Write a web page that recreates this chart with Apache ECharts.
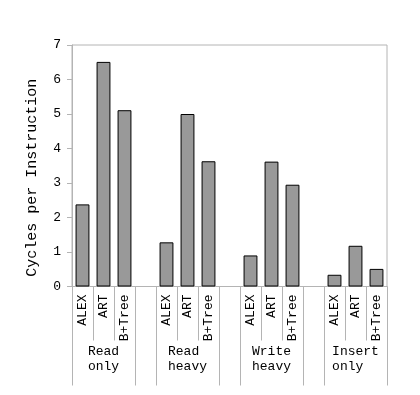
<!DOCTYPE html>
<html>
<head>
<meta charset="utf-8">
<script src="https://cdn.jsdelivr.net/npm/echarts@6/dist/echarts.min.js"></script>
<style>html,body{margin:0;padding:0;background:#fff}#c{width:420px;height:395px}</style>
</head>
<body>
<div id="c"></div>
<script>
const benchmarks = ['ALEX', 'ART', 'B+Tree'];
const workloads = ['Read\nonly', 'Read\nheavy', 'Write\nheavy', 'Insert\nonly'];
const readOnly = [2.38, 6.51, 5.11];
const readHeavy = [1.28, 5.0, 3.63];
const writeHeavy = [0.9, 3.62, 2.95];
const insertOnly = [0.34, 1.18, 0.51];
const yTicks = [0, 1, 2, 3, 4, 5, 6, 7];

const groups = [readOnly, readHeavy, writeHeavy, insertOnly];
const cats = [], vals = [], groupLabels = [], shortTicks = new Set(), longTicks = new Set();
groups.forEach((g, gi) => {
  if (gi > 0) { longTicks.add(cats.length); cats.push(''); vals.push(null); groupLabels.push(''); }
  longTicks.add(cats.length);
  benchmarks.forEach((b, bi) => {
    if (bi > 0) shortTicks.add(cats.length);
    cats.push(b); vals.push(g[bi]);
    groupLabels.push(bi === 1 ? workloads[gi] : '');
  });
});

// left-align the lines of a centred multi-line label (monospace font)
function padLines(s) {
  const lines = s.split('\n');
  const w = Math.max(...lines.map(l => l.length));
  return lines.map(l => l + '\u00a0'.repeat(w - l.length)).join('\n');
}

const FONT = '"Liberation Mono", monospace';
const GRAY = '#b4b4b4';
const chart = echarts.init(document.getElementById('c'), null, {renderer: 'canvas'});
chart.setOption({
  animation: false,
  grid: {left: 72, right: 33, top: 45, bottom: 108.5, show: true, borderColor: GRAY, borderWidth: 1},
  xAxis: [{
    type: 'category', data: cats, position: 'bottom',
    axisLine: {show: true, lineStyle: {color: GRAY}},
    axisTick: {show: true, length: 54, interval: (i) => shortTicks.has(i), lineStyle: {color: GRAY}},
    axisLabel: {interval: 0, rotate: 90, margin: 8, fontFamily: FONT, fontSize: 13, color: '#000'}
  }, {
    type: 'category', data: groupLabels, position: 'bottom',
    axisLine: {show: false},
    axisTick: {show: true, length: 99, interval: (i) => longTicks.has(i), lineStyle: {color: GRAY}},
    axisLabel: {interval: 0, margin: 58, lineHeight: 15, fontFamily: FONT, fontSize: 13, color: '#000',
      formatter: (v) => padLines(v)}
  }],
  yAxis: {
    type: 'value', min: yTicks[0], max: yTicks[yTicks.length - 1], interval: 1,
    name: 'Cycles per Instruction', nameLocation: 'middle', nameGap: 32,
    nameTextStyle: {fontFamily: FONT, fontSize: 15, color: '#000', padding: [0, 24, 0, 0]},
    axisLine: {show: true, lineStyle: {color: GRAY}},
    axisTick: {show: true, length: 5, lineStyle: {color: GRAY}},
    splitLine: {show: false},
    axisLabel: {margin: 11, fontFamily: FONT, fontSize: 13, color: '#000'}
  },
  series: [{
    type: 'bar', xAxisIndex: 0, data: vals, barWidth: '66%',
    itemStyle: {color: '#999999', borderColor: '#000', borderWidth: 1}
  }]
});
</script>
</body>
</html>
